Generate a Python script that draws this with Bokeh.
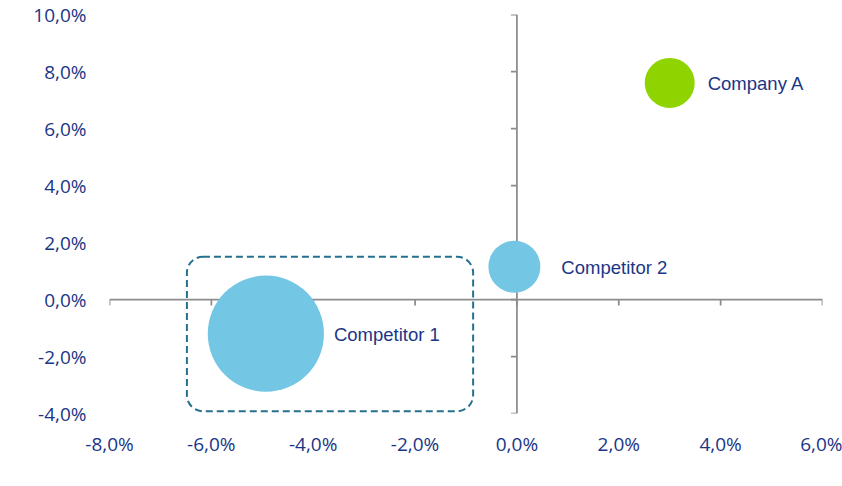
import math
from bokeh.plotting import figure
from bokeh.models import ColumnDataSource, Span, BoxAnnotation, Label, FixedTicker
from bokeh.core.properties import value
from bokeh.embed import file_html
from bokeh.resources import INLINE

# ---- data ----
companies = ["Competitor 1", "Competitor 2", "Company A"]
cagr = [-4.93, -0.05, 3.0]          # 3-year CAGR value of production, %
ebitda = [-1.2, 1.15, 7.6]          # EBITDA margin, %
bubble_size = [5.4, 1.08, 1.0]      # relative bubble size
bubble_colors = ["#73C6E4", "#73C6E4", "#8FD400"]

x_ticks = [-8, -6, -4, -2, 0, 2, 4, 6]
x_tick_labels = ["-8,0%", "-6,0%", "-4,0%", "-2,0%", "0,0%", "2,0%", "4,0%", "6,0%"]
y_ticks = [-4, -2, 0, 2, 4, 6, 8, 10]
y_tick_labels = ["-4,0%", "-2,0%", "0,0%", "2,0%", "4,0%", "6,0%", "8,0%", "10,0%"]

# highlighted region around Competitor 1 (x %, y %)
highlight_left, highlight_right = -6.48, -0.86
highlight_bottom, highlight_top = -3.92, 1.50

x_title = "3-year CAGR Value of Production"
y_title = "EBITDA Margin"

# ---- styling ----
NAVY = "#1B3585"
AXIS_GREY = "#8C8C8C"
W, H = 842, 486
LEFT, RIGHT, TOP, BOTTOM = 109, 20, 14, 73

p = figure(width=W, height=H, output_backend="svg", toolbar_location=None,
           x_range=(x_ticks[0], x_ticks[-1]), y_range=(y_ticks[0], y_ticks[-1]),
           min_border_left=LEFT, min_border_right=RIGHT,
           min_border_top=TOP, min_border_bottom=BOTTOM)
p.outline_line_color = None
p.grid.visible = False
p.background_fill_color = "white"
p.border_fill_color = "white"

for ax, ticks, labels, standoff in ((p.xaxis, x_ticks, x_tick_labels, 11),
                                    (p.yaxis, y_ticks, y_tick_labels, 17)):
    ax.ticker = FixedTicker(ticks=ticks)
    ax.major_label_overrides = {t: l for t, l in zip(ticks, labels)}
    ax.axis_line_color = None
    ax.major_tick_line_color = None
    ax.minor_tick_line_color = None
    ax.major_label_standoff = standoff
    ax.major_label_text_font = "Open Sans"
    ax.major_label_text_font_size = "19px"
    ax.major_label_text_color = NAVY

# pixels per data unit
px_x = (W - LEFT - RIGHT) / (x_ticks[-1] - x_ticks[0])
px_y = (H - TOP - BOTTOM) / (y_ticks[-1] - y_ticks[0])
tick_len = 6

# crossing axes at zero (drawn beneath the bubbles)
p.add_layout(Span(location=0, dimension="width", line_color=AXIS_GREY, line_width=1.75,
                  level="underlay"))
p.add_layout(Span(location=0, dimension="height", line_color=AXIS_GREY, line_width=1.75,
                  level="underlay"))
p.segment(x0=x_ticks, x1=x_ticks, y0=[0] * len(x_ticks), y1=[-tick_len / px_y] * len(x_ticks),
          line_color=AXIS_GREY, line_width=1.75, level="underlay")
p.segment(x0=[0] * len(y_ticks), x1=[-tick_len / px_x] * len(y_ticks), y0=y_ticks, y1=y_ticks,
          line_color=AXIS_GREY, line_width=1.75, level="underlay")

# dashed rounded highlight box
p.add_layout(BoxAnnotation(left=highlight_left, right=highlight_right,
                           bottom=highlight_bottom, top=highlight_top,
                           fill_alpha=0, line_color="#25708F", line_alpha=1.0, line_width=2,
                           line_dash="7 4", border_radius=16))

# bubbles
diam = [50 * math.sqrt(s) for s in bubble_size]
label_gap = [10, 21, 13]
src = ColumnDataSource(dict(x=cagr, y=ebitda, size=diam, color=bubble_colors,
                            name=companies,
                            dx=[d / 2 + g for d, g in zip(diam, label_gap)]))
p.scatter("x", "y", size="size", fill_color="color", line_color=None, source=src)
p.text("x", "y", text="name", x_offset="dx", y_offset=1, source=src,
       text_font=value("Liberation Sans"), text_font_size="18.5px",
       text_color=NAVY, text_align="left", text_baseline="middle")

# axis titles
p.add_layout(Label(x=(497.5 - LEFT) / px_x + x_ticks[0], y=y_ticks[-1] - (474.5 - TOP) / px_y,
                   text=x_title, text_font="Liberation Sans", text_font_size="19px",
                   text_color=NAVY, text_align="center", text_baseline="middle"))
p.add_layout(Label(x=(40 - LEFT) / px_x + x_ticks[0], y=y_ticks[-1] - (207.5 - TOP) / px_y,
                   text=y_title, angle=math.pi / 2, text_font="Liberation Sans",
                   text_font_size="19px", text_color=NAVY,
                   text_align="center", text_baseline="middle"))

open("out.html", "w").write(file_html(p, INLINE))
